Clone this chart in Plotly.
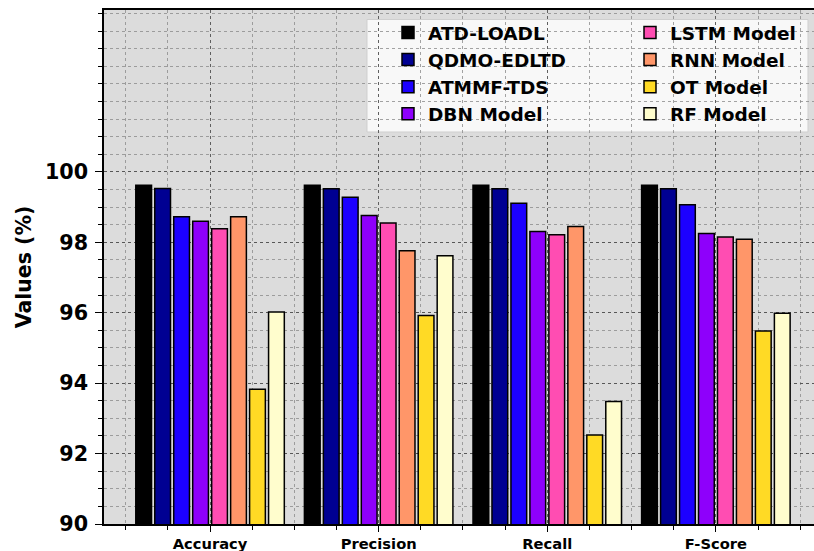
import plotly.graph_objects as go

categories = ["Accuracy", "Precision", "Recall", "F-Score"]
models = ["ATD-LOADL", "QDMO-EDLTD", "ATMMF-TDS", "DBN Model",
          "LSTM Model", "RNN Model", "OT Model", "RF Model"]
values = {
    "ATD-LOADL":  [99.62, 99.62, 99.62, 99.62],
    "QDMO-EDLTD": [99.53, 99.52, 99.52, 99.52],
    "ATMMF-TDS":  [98.73, 99.28, 99.11, 99.07],
    "DBN Model":  [98.60, 98.76, 98.31, 98.25],
    "LSTM Model": [98.39, 98.55, 98.22, 98.15],
    "RNN Model":  [98.73, 97.76, 98.45, 98.09],
    "OT Model":   [93.83, 95.92, 92.53, 95.48],
    "RF Model":   [96.02, 97.62, 93.48, 95.99],
}
colors = ["#000000", "#000092", "#1C00FF", "#8E00FB",
          "#FF4DB2", "#FF9669", "#FFDA25", "#FFFDCD"]
y_ticks = [90, 92, 94, 96, 98, 100]

x_pos = list(range(len(categories)))
FONT = "DejaVu Sans"

W, H = 814, 551
ML, MR, MT, MB = 104, 0, 10, 27
PW, PH = W - ML - MR, H - MT - MB


def px_x(p):  # pixel -> paper x
    return (p - ML) / PW


def px_y(p):  # pixel -> paper y
    return (H - MB - p) / PH


fig = go.Figure()
for i, (m, c) in enumerate(zip(models, colors)):
    fig.add_trace(go.Bar(
        x=x_pos, y=values[m], name=m,
        marker=dict(color=c, line=dict(color="#000000", width=1.5)),
        legend="legend" if i < 4 else "legend2",
    ))

ymax = max(max(v) for v in values.values()) * 1.05

leg_font = dict(family=FONT, size=18.5, color="black", weight="bold")
fig.update_layout(
    width=W, height=H,
    margin=dict(l=ML, r=MR, t=MT, b=MB, autoexpand=False),
    paper_bgcolor="white",
    plot_bgcolor="#DCDCDC",
    barmode="group", bargap=0.1, bargroupgap=0.17,
    font=dict(family=FONT, color="black"),
    legend=dict(
        x=px_x(388), xanchor="left", y=px_y(14), yanchor="top",
        bgcolor="rgba(0,0,0,0)", borderwidth=0, font=leg_font,
        tracegroupgap=0,
    ),
    legend2=dict(
        x=px_x(630), xanchor="left", y=px_y(14), yanchor="top",
        bgcolor="rgba(0,0,0,0)", borderwidth=0, font=leg_font,
        tracegroupgap=0,
    ),
    showlegend=True,
    shapes=[dict(
        type="rect", xref="paper", yref="paper",
        x0=px_x(367), x1=px_x(808), y0=px_y(132), y1=px_y(19.5),
        fillcolor="rgba(248,248,248,1)", line=dict(color="#CFCFCF", width=1),
        layer="between",
    )],
)

fig.update_xaxes(
    range=[-0.629, 3.582], automargin=False,
    tickmode="array", tickvals=x_pos, ticktext=categories,
    tickfont=dict(family=FONT, size=14.7, color="black", weight="bold"),
    ticks="outside", ticklen=6, tickwidth=1.2, tickcolor="black",
    showline=True, linecolor="black", linewidth=1.5, mirror=True,
    showgrid=True, gridcolor="rgba(80,80,80,0.8)", griddash="dot", gridwidth=1,
    zeroline=False,
    minor=dict(dtick=0.25, tick0=0, ticks="outside", ticklen=4, tickwidth=1,
               tickcolor="black", showgrid=True,
               gridcolor="rgba(140,140,140,0.8)", griddash="dot", gridwidth=1),
)
fig.update_yaxes(
    range=[90, ymax], automargin=False,
    tickmode="array", tickvals=y_ticks, ticktext=[str(t) for t in y_ticks],
    tickfont=dict(family=FONT, size=20.7, color="black", weight="bold"),
    ticks="outside", ticklen=7, tickwidth=1.2, tickcolor="black",
    ticklabelstandoff=3,
    showline=True, linecolor="black", linewidth=1.5, mirror=False,
    showgrid=True, gridcolor="rgba(70,70,70,0.8)", griddash="dot", gridwidth=1,
    zeroline=False,
    title=dict(text="Values (%)", font=dict(family=FONT, size=20.5, color="black", weight="bold"),
               standoff=8),
    minor=dict(dtick=0.5, tick0=90, ticks="outside", ticklen=4, tickwidth=1,
               tickcolor="black", showgrid=True,
               gridcolor="rgba(140,140,140,0.8)", griddash="dot", gridwidth=1),
)

fig.write_html(
    "out.html",
    config={"displayModeBar": False},
    post_script="document.body.style.margin='0';document.body.style.overflow='hidden';",
)
